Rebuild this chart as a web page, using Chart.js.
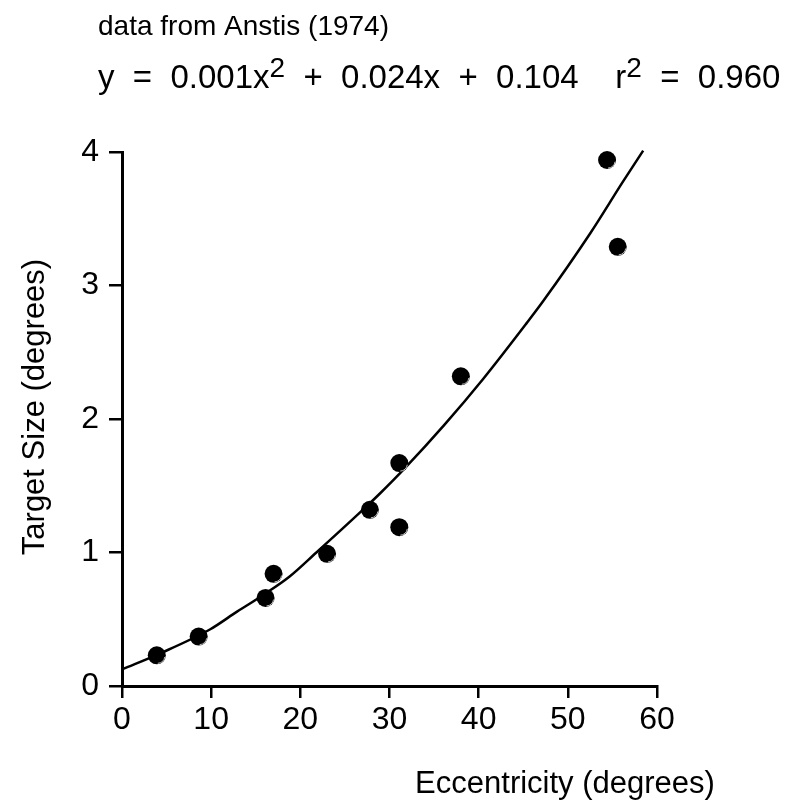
<!DOCTYPE html>
<html lang="en">
<head>
    <meta charset="UTF-8">
    <script src="https://cdn.jsdelivr.net/npm/chart.js"></script>
    <style>
        html, body { margin: 0; padding: 0; background: #fff; }
        #chartBox { width: 796px; height: 805px; }
    </style>
</head>
<body>
    <div id="chartBox">
        <canvas id="anstisChart" width="796" height="805"></canvas>
    </div>
    <script>
        // Measured points (Anstis 1974)
        const eccentricity = [3.9, 8.6, 16.1, 17.0, 23.0, 27.8, 31.1, 31.1, 38.0, 54.4, 55.6];
        const targetSize = [0.23, 0.37, 0.66, 0.84, 0.99, 1.32, 1.67, 1.19, 2.32, 3.94, 3.29];

        // Fitted curve
        const fitX = [0, 4.3, 9.9, 12.9, 15.8, 18.8, 21.8, 26.7, 28.9, 31.7, 36.2, 40.5, 45.4, 47.2, 52.5, 56.2, 58.45];
        const fitY = [0.125, 0.245, 0.425, 0.557, 0.68, 0.82, 1.00, 1.30, 1.44, 1.63, 1.96, 2.30, 2.72, 2.88, 3.39, 3.78, 4.01];

        const xTicks = [0, 10, 20, 30, 40, 50, 60];
        const yTicks = [0, 1, 2, 3, 4];

        const font = '"Liberation Sans", Arial, Helvetica, sans-serif';

        // Text around the plot: caption, equation, axis titles, point shine
        const textPlugin = {
            id: 'textPlugin',
            afterDatasetsDraw(chart) {
                const ctx = chart.ctx;
                ctx.save();

                // little highlight on each dot
                chart.getDatasetMeta(1).data.forEach(pt => {
                    ctx.beginPath();
                    ctx.strokeStyle = 'rgba(255,255,255,0.75)';
                    ctx.lineWidth = 1;
                    ctx.arc(pt.x + 1, pt.y + 1, 7, 0.1, Math.PI / 2);
                    ctx.stroke();
                });

                ctx.fillStyle = '#000';
                ctx.textBaseline = 'alphabetic';
                ctx.textAlign = 'left';

                ctx.font = '28px ' + font;
                ctx.fillText('data from Anstis (1974)', 98, 35);

                // equation with superscripts
                const parts = [
                    ['y  =  0.001x', 0, 33],
                    ['2', -11, 28],
                    ['  +  0.024x  +  0.104    r', 0, 33],
                    ['2', -11, 28],
                    ['  =  0.960', 0, 33]
                ];
                let x = 98;
                parts.forEach(p => {
                    ctx.font = p[2] + 'px ' + font;
                    ctx.fillText(p[0], x, 88 + p[1]);
                    x += ctx.measureText(p[0]).width;
                });

                ctx.font = '31px ' + font;
                ctx.textAlign = 'center';
                ctx.fillText('Eccentricity (degrees)', 565, 793);

                ctx.save();
                ctx.translate(44, 407);
                ctx.rotate(-Math.PI / 2);
                ctx.fillText('Target Size (degrees)', 0, 0);
                ctx.restore();

                ctx.restore();
            }
        };

        new Chart(document.getElementById('anstisChart'), {
            type: 'scatter',
            data: {
                datasets: [
                    {
                        type: 'line',
                        data: fitX.map((v, i) => ({ x: v, y: fitY[i] })),
                        borderColor: '#000',
                        borderWidth: 2.5,
                        pointRadius: 0,
                        cubicInterpolationMode: 'monotone',
                        fill: false,
                        clip: false
                    },
                    {
                        data: eccentricity.map((v, i) => ({ x: v, y: targetSize[i] })),
                        backgroundColor: '#000',
                        borderColor: '#000',
                        borderWidth: 0,
                        pointRadius: 9,
                        clip: false
                    }
                ]
            },
            options: {
                responsive: false,
                animation: false,
                layout: { padding: { left: 0, top: 152, right: 139, bottom: 0 } },
                plugins: {
                    legend: { display: false },
                    tooltip: { enabled: false }
                },
                scales: {
                    x: {
                        type: 'linear',
                        min: 0,
                        max: 60,
                        afterFit(scale) { scale.height = 805 - 686; },
                        afterBuildTicks(scale) { scale.ticks = xTicks.map(v => ({ value: v })); },
                        border: { display: true, color: '#000', width: 3 },
                        grid: { drawOnChartArea: false, drawTicks: true, tickLength: 12, color: '#000', lineWidth: 2.5 },
                        ticks: { color: '#000', font: { family: font, size: 32 }, padding: 3, maxRotation: 0 }
                    },
                    y: {
                        type: 'linear',
                        min: 0,
                        max: 4,
                        afterFit(scale) { scale.width = 122; },
                        afterBuildTicks(scale) { scale.ticks = yTicks.map(v => ({ value: v })); },
                        border: { display: true, color: '#000', width: 3 },
                        grid: { drawOnChartArea: false, drawTicks: true, tickLength: 13, color: '#000', lineWidth: 2.5 },
                        ticks: { color: '#000', font: { family: font, size: 32 }, padding: 10 }
                    }
                }
            },
            plugins: [textPlugin]
        });
    </script>
</body>
</html>
